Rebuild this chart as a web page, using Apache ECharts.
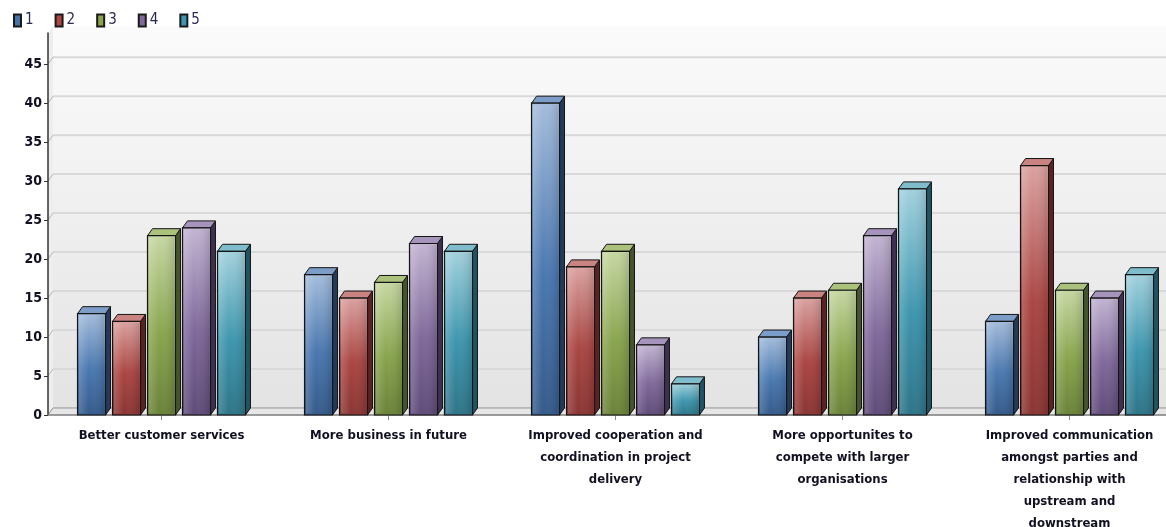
<!DOCTYPE html>
<html>
<head>
<meta charset="utf-8">
<script src="https://cdn.jsdelivr.net/npm/echarts@6/dist/echarts.min.js"></script>
<style>
html,body{margin:0;padding:0;background:#fff;}
#chart{width:1166px;height:527px;}
</style>
</head>
<body>
<div id="chart"></div>
<script>
const categories = [
  'Better customer services',
  'More business in future',
  'Improved cooperation and\ncoordination in project\ndelivery',
  'More opportunites to\ncompete with larger\norganisations',
  'Improved communication\namongst parties and\nrelationship with\nupstream and\ndownstream'
];
const seriesNames = ['1', '2', '3', '4', '5'];
const values1 = [13, 18, 40, 10, 12];
const values2 = [12, 15, 19, 15, 32];
const values3 = [23, 17, 21, 16, 16];
const values4 = [24, 22, 9, 23, 15];
const values5 = [21, 21, 4, 29, 18];
const allValues = [values1, values2, values3, values4, values5];
const yTickValues = [0, 5, 10, 15, 20, 25, 30, 35, 40, 45];

const FONT = '"Liberation Sans Narrow", "DejaVu Sans Condensed", "Arial Narrow", sans-serif';
const DX = 5, DY = 7;

const palette = [
  {base:'#4572A7', light:'#a5bddc', mid:'#4a78b0', dark:'#345a8a', topFace:'#7c9dc8', side:'#233a5a'},
  {base:'#AA4643', light:'#dba3a1', mid:'#aa4643', dark:'#8a3533', topFace:'#c98381', side:'#5a2220'},
  {base:'#89A54E', light:'#c7d8a3', mid:'#89a54e', dark:'#6a8238', topFace:'#abc27d', side:'#45552a'},
  {base:'#80699B', light:'#c3b5d3', mid:'#80699b', dark:'#5f4b78', topFace:'#a794bd', side:'#3e3050'},
  {base:'#3D96AE', light:'#a3d2de', mid:'#3d96ae', dark:'#2e7488', topFace:'#7fbdcd', side:'#1e5463'}
];

function barRenderer(si) {
  const c = palette[si];
  return function (params, api) {
    const cat = api.value(0), v = api.value(1);
    const p0 = api.coord([cat, 0]);
    const p1 = api.coord([cat, v]);
    const band = api.size([1, 0])[0];
    const w = band * 0.1233;
    const left = p0[0] - 3 * w + si * 1.25 * w;
    const yb = p0[1], yt = p1[1];
    const stroke = '#151515';
    return {
      type: 'group',
      children: [
        {
          type: 'polygon',
          shape: {points: [[left + w, yt], [left + w + DX, yt - DY], [left + w + DX, yb - DY], [left + w, yb]]},
          style: {fill: c.side, stroke: stroke, lineWidth: 1}
        },
        {
          type: 'polygon',
          shape: {points: [[left, yt], [left + DX, yt - DY], [left + w + DX, yt - DY], [left + w, yt]]},
          style: {fill: c.topFace, stroke: stroke, lineWidth: 1}
        },
        {
          type: 'rect',
          shape: {x: left, y: yt, width: w, height: yb - yt},
          style: {
            fill: new echarts.graphic.LinearGradient(0, 0, 0, 1, [
              {offset: 0, color: c.light},
              {offset: 0.55, color: c.mid},
              {offset: 1, color: c.dark}
            ]),
            stroke: stroke, lineWidth: 1.2
          }
        },
        {
          type: 'rect',
          shape: {x: left + 1.5, y: yt + 1.5, width: Math.max(0, w - 3), height: Math.max(0, yb - yt - 3)},
          style: {
            fill: new echarts.graphic.LinearGradient(0, 0, 1, 0, [
              {offset: 0, color: 'rgba(255,255,255,0.18)'},
              {offset: 0.4, color: 'rgba(255,255,255,0)'},
              {offset: 1, color: 'rgba(0,0,0,0.12)'}
            ])
          }
        }
      ]
    };
  };
}

function wallRenderer(params, api) {
  const cs = params.coordSys;
  const x = cs.x, y = cs.y, w = cs.width, h = cs.height;
  const y0 = y + h;
  const children = [];
  children.push({
    type: 'rect',
    shape: {x: x + DX, y: y - DY, width: w + 40, height: h},
    style: {fill: new echarts.graphic.LinearGradient(0, 0, 0, 1, [
      {offset: 0, color: '#fbfbfb'},
      {offset: 1, color: '#e3e3e3'}
    ])}
  });
  children.push({
    type: 'polygon',
    shape: {points: [[x, y], [x + DX, y - DY], [x + DX, y0 - DY], [x, y0]]},
    style: {fill: '#eeeeee'}
  });
  yTickValues.forEach(function (v) {
    const yy = api.coord([0, v])[1];
    children.push({
      type: 'line',
      shape: {x1: x + DX, y1: yy - DY, x2: x + w + 40, y2: yy - DY},
      style: {stroke: '#d9d9d9', lineWidth: 2}
    });
    children.push({
      type: 'line',
      shape: {x1: x, y1: yy, x2: x + DX, y2: yy - DY},
      style: {stroke: '#b5b5b5', lineWidth: 1}
    });
  });
  children.push({
    type: 'polygon',
    shape: {points: [[x, y0], [x + DX, y0 - DY], [x + w + 40, y0 - DY], [x + w + 40, y0]]},
    style: {fill: '#e6e6e6', stroke: '#9a9a9a', lineWidth: 1}
  });
  return {type: 'group', children: children};
}

const series = [{
  name: 'walls',
  type: 'custom',
  renderItem: wallRenderer,
  data: [[0, 0]],
  encode: {x: 0, y: 1},
  z: 0,
  silent: true
}];
seriesNames.forEach(function (name, si) {
  series.push({
    name: name,
    type: 'custom',
    renderItem: barRenderer(si),
    data: allValues[si].map(function (v, i) { return [i, v]; }),
    encode: {x: 0, y: 1},
    itemStyle: {color: palette[si].base, borderColor: '#1a1a1a', borderWidth: 1},
    z: 5
  });
});

const chart = echarts.init(document.getElementById('chart'), null, {renderer: 'canvas'});
chart.setOption({
  animation: false,
  backgroundColor: '#ffffff',
  legend: {
    data: seriesNames,
    left: 8,
    top: 8,
    icon: 'rect',
    itemWidth: 7,
    itemHeight: 12,
    itemGap: 21,
    textStyle: {fontFamily: FONT, fontSize: 15, color: '#2a2a55', padding: [0, 0, 0, -1]}
  },
  grid: {left: 48, right: -17, top: 33, bottom: 112, containLabel: false, outerBoundsMode: 'none'},
  xAxis: {
    type: 'category',
    data: categories,
    axisLine: {show: true, lineStyle: {color: '#8a8a8a', width: 1.5}},
    axisTick: {show: true, alignWithLabel: true, length: 5, lineStyle: {color: '#8a8a8a'}},
    axisLabel: {
      interval: 0,
      margin: 10,
      fontFamily: FONT,
      fontSize: 13,
      fontWeight: 'bold',
      color: '#111122',
      lineHeight: 22,
      align: 'center',
      hideOverlap: false
    },
    splitLine: {show: false}
  },
  yAxis: {
    type: 'value',
    min: 0,
    max: 49,
    interval: 5,
    axisLine: {show: true, lineStyle: {color: '#333333', width: 1.5}},
    axisTick: {show: true, inside: false, length: 4, lineStyle: {color: '#333333'}, customValues: yTickValues},
    axisLabel: {
      fontFamily: FONT,
      fontSize: 14,
      fontWeight: 'bold',
      color: '#111122',
      margin: 6,
      customValues: yTickValues
    },
    splitLine: {show: false}
  },
  series: series
});
</script>
</body>
</html>
